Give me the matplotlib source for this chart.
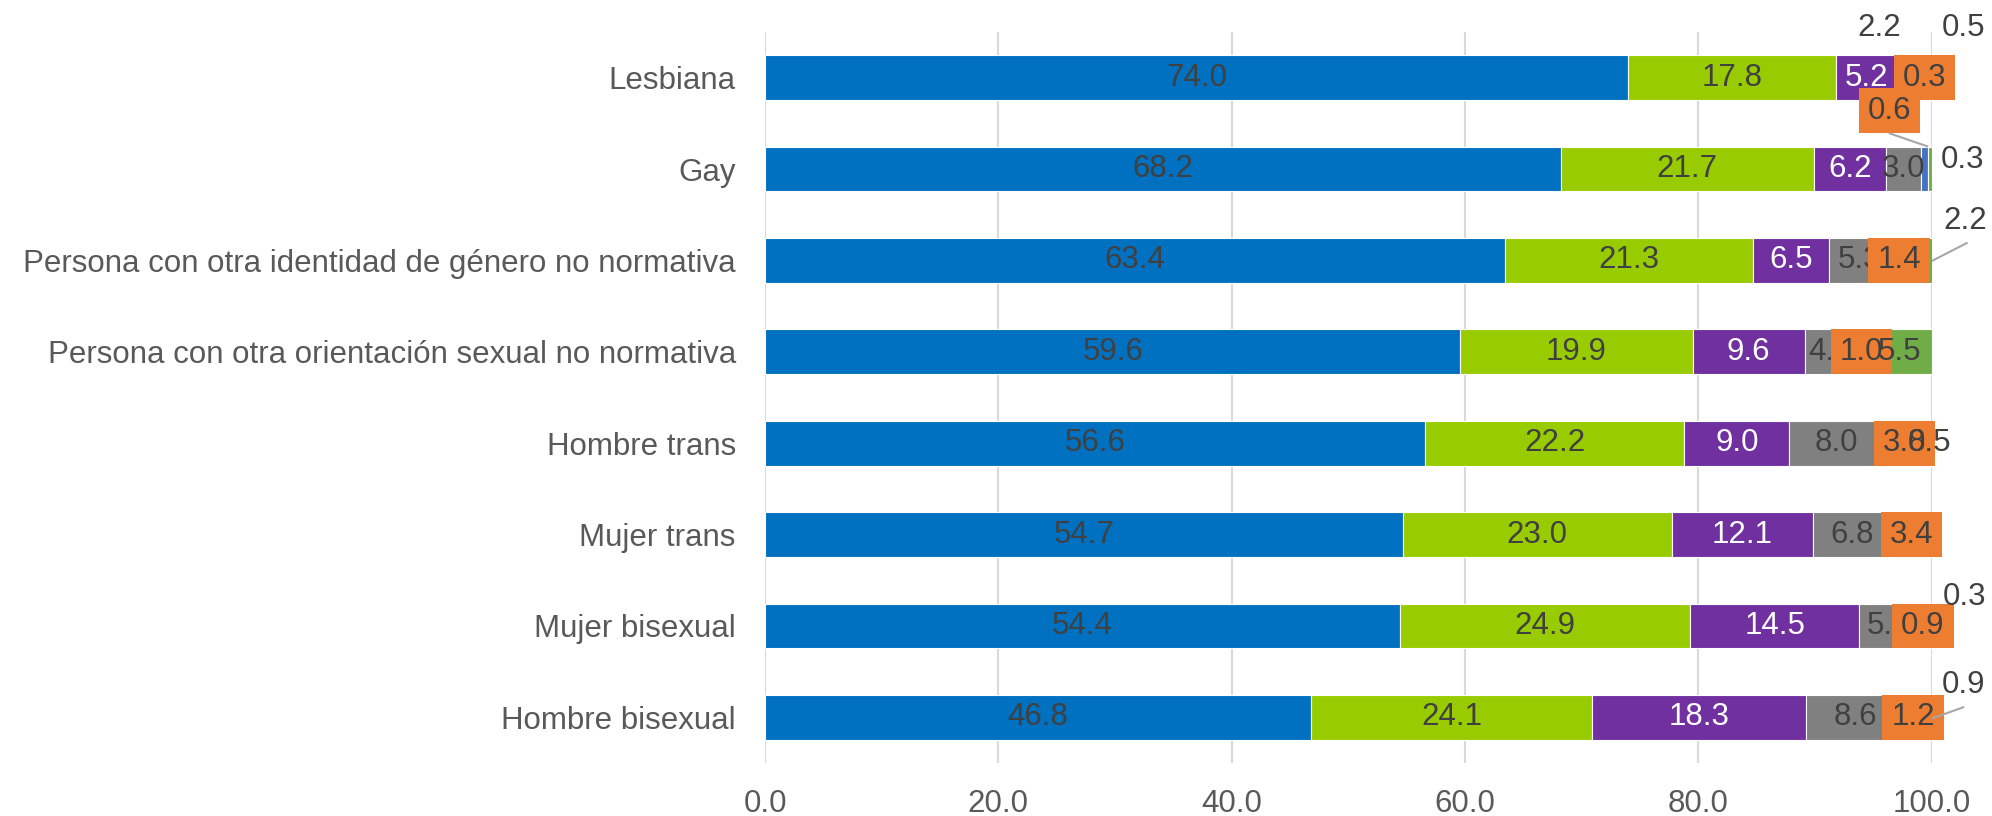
import matplotlib.pyplot as plt
from matplotlib.patches import Rectangle

plt.rcParams['font.family'] = ['Liberation Sans', 'DejaVu Sans']

categorias = ["Lesbiana", "Gay", "Persona con otra identidad de género no normativa",
              "Persona con otra orientación sexual no normativa", "Hombre trans",
              "Mujer trans", "Mujer bisexual", "Hombre bisexual"]

serie1 = [74.0, 68.2, 63.4, 59.6, 56.6, 54.7, 54.4, 46.8]
serie2 = [17.8, 21.7, 21.3, 19.9, 22.2, 23.0, 24.9, 24.1]
serie3 = [5.2, 6.2, 6.5, 9.6, 9.0, 12.1, 14.5, 18.3]
serie4 = [2.2, 3.0, 5.3, 4.4, 8.0, 6.8, 5.0, 8.6]
serie5 = [0.3, 0.6, 1.4, 1.0, 3.8, 3.4, 0.9, 1.2]
serie6 = [0.5, 0.3, 2.2, 5.5, 0.5, 0.0, 0.3, 0.9]

xticks = [0, 20, 40, 60, 80, 100]

series = [serie1, serie2, serie3, serie4, serie5, serie6]
colores = ["#0070C0", "#99CC00", "#7030A0", "#808080", "#4472C4", "#70AD47"]
col_texto = ["#404040", "#404040", "white", "#404040", "#404040", "#404040"]

# etiquetas movidas a mano (serie, fila) -> (x, y, linea guia)
movidas = {
    (3, 0): (95.5, -0.54, None),
    (4, 1): (96.4, 0.36, ((96.4, 0.61), (99.6, 0.75))),
    (5, 0): (102.7, -0.54, None),
    (5, 1): (102.6, 0.90, None),
    (5, 2): (102.9, 1.57, ((103.0, 1.81), (100.1, 2.0))),
    (5, 6): (102.8, 5.68, None),
    (5, 7): (102.7, 6.65, ((102.7, 6.89), (100.1, 7.01))),
}

fig = plt.figure(figsize=(19.92, 8.16), dpi=100)
ax = fig.add_axes([765 / 1992, 53 / 816, 1166.7 / 1992, 731 / 816])

y = list(range(len(categorias)))
alto = 0.49
izq = [0.0] * len(categorias)
fs = 22.5

for s, (vals, c) in enumerate(zip(series, colores)):
    ax.barh(y, vals, left=izq, height=alto, color=c, edgecolor="white",
            linewidth=0.8, zorder=2)
    for i, v in enumerate(vals):
        if v == 0:
            continue
        cx = izq[i] + v / 2
        cy = i
        guia = None
        if (s, i) in movidas:
            cx, cy, guia = movidas[(s, i)]
        z = 3 if s < 4 else (4 if s == 4 else 5)
        if s == 4:
            ax.add_patch(Rectangle((cx - 2.62, cy - alto / 2), 5.24, alto,
                                   facecolor="#ED7D31", edgecolor="none",
                                   zorder=4, clip_on=False))
        ax.text(cx, cy, f"{v:.1f}", ha="center", va="center", fontsize=fs,
                color=col_texto[s], zorder=z + 0.5, clip_on=False)
        if guia is not None:
            (x0, y0), (x1, y1) = guia
            ax.plot([x0, x1], [y0, y1], color="#A6A6A6", lw=1.5,
                    zorder=6, clip_on=False)
        izq[i] += v

ax.set_xlim(0, 100)
ax.set_ylim(len(categorias) - 0.5, -0.5)
ax.set_xticks(xticks)
ax.set_xticklabels([f"{t:.1f}" for t in xticks])
ax.set_yticks(y)
ax.set_yticklabels(categorias)
ax.tick_params(axis="both", length=0, labelsize=22.5, labelcolor="#595959")
ax.tick_params(axis="x", pad=19)
ax.tick_params(axis="y", pad=21)
ax.grid(axis="x", color="#D9D9D9", linewidth=1.5, zorder=0)
ax.set_axisbelow(True)
for sp in ax.spines.values():
    sp.set_visible(False)

fig.savefig("out.png", dpi=100)
